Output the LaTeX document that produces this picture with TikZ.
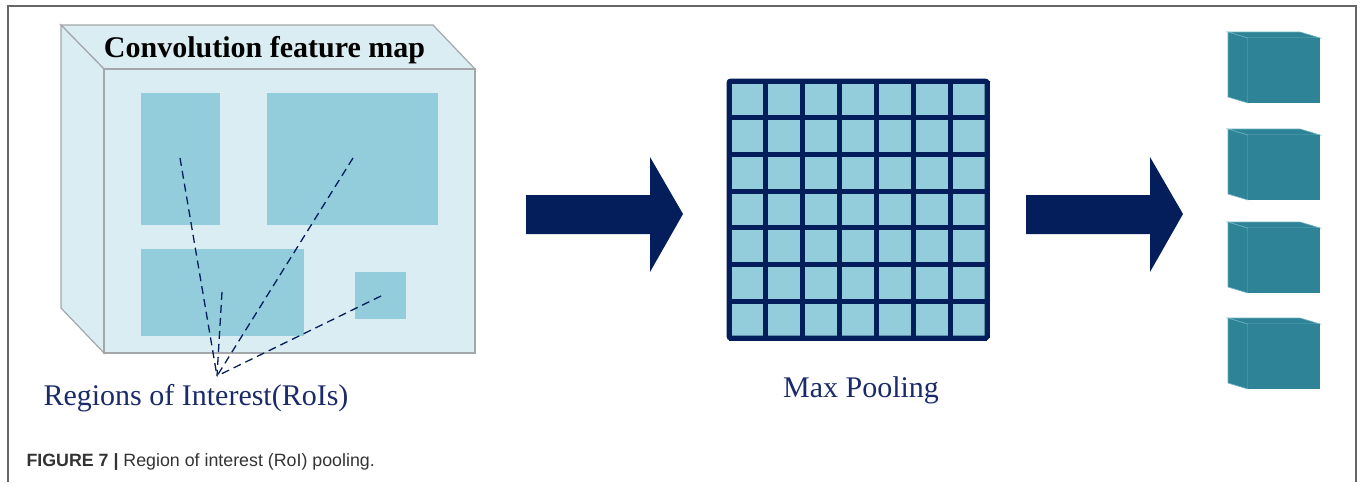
\documentclass[tikz,border=0pt]{standalone}
\usepackage{fontspec}
\setmainfont{Liberation Serif}
\newfontfamily\capfont{Liberation Sans}
\usepackage{tikz}

\definecolor{mapfill}{HTML}{DAEDF2}
\definecolor{mapedge}{HTML}{A3A7A9}
\definecolor{roifill}{HTML}{93CDDB}
\definecolor{navy}{HTML}{031E5B}
\definecolor{inktext}{HTML}{1B2A6B}
\definecolor{cubefill}{HTML}{2F8396}
\definecolor{cubeedge}{HTML}{6AAFC0}

\tikzset{
    roiline/.style={draw=navy, line width=1.3, dash pattern=on 8pt off 5pt},
    bigtext/.style={font=\fontsize{30}{34}\selectfont, anchor=base},
}

\begin{document}
\begin{tikzpicture}[x=1pt, y=-1pt]
    \useasboundingbox (0,0) rectangle (1360,482);
    % figure frame
    \draw[black!60, line width=1.5] (8,482) -- (8,6) -- (1356,6) -- (1356,482);

    % feature map block
    \filldraw[fill=mapfill, draw=mapedge, line width=1.2] (61,25) -- (433,25) -- (475,69) -- (104,69) -- cycle;
    \filldraw[fill=mapfill, draw=mapedge, line width=1.2] (61,25) -- (104,69) -- (104,353) -- (61,308) -- cycle;
    \filldraw[fill=mapfill, draw=mapedge, line width=1.2] (104,69) rectangle (475,353);
    \node[bigtext, font=\fontsize{30}{34}\selectfont\bfseries] (title) at (264.5,57) {Convolution feature map};

    % regions
    \foreach \xa/\ya/\xb/\yb in {141/93/220/225, 267/93/438/225, 141/249/304/336, 355/272/406/319} {
        \fill[roifill] (\xa,\ya) rectangle (\xb,\yb);
    }
    \coordinate (roi) at (217,376);
    \coordinate (pa) at (180,158);
    \coordinate (pb) at (353,158);
    \coordinate (pc) at (222,292);
    \coordinate (pd) at (381,296);
    \foreach \p in {pa, pb, pc, pd} {
        \draw[roiline] (\p) -- (roi);
    }
    \node[bigtext, text=inktext] (roilabel) at (196,405.5) {Regions of Interest(RoIs)};

    % arrows
    \foreach \ax in {526, 1026} {
        \fill[navy] (\ax,195) -- (\ax+124,195) -- (\ax+124,157) -- (\ax+157,214)
            -- (\ax+124,272) -- (\ax+124,234) -- (\ax,234) -- cycle;
    }

    % pooling grid
    \fill[roifill] (729,81) rectangle (987,338);
    \foreach \i in {0,...,7} {
        \draw[navy, line width=5] (729+\i*36.857,81) -- (729+\i*36.857,338);
        \draw[navy, line width=5] (729,81+\i*36.714) -- (987,81+\i*36.714);
    }
    \draw[navy, line width=5, rounded corners=2] (729,81) rectangle (987,338);
    \node[bigtext, text=inktext] (poollabel) at (861,397) {Max Pooling};

    % output cubes
    \foreach \t in {32, 129, 222, 318} {
        \filldraw[fill=cubefill, draw=cubeedge, line width=0.6] (1228,\t) -- (1248,\t+6) -- (1248,\t+71) -- (1228,\t+65) -- cycle;
        \filldraw[fill=cubefill, draw=cubeedge, line width=0.6] (1228,\t) -- (1300,\t) -- (1320,\t+6) -- (1248,\t+6) -- cycle;
        \fill[cubefill] (1248.4,\t+6.4) rectangle (1320,\t+71);
    }

    \node[anchor=base west, text=black!80, font=\capfont\fontsize{17.8}{20}\selectfont] (caption) at (23,466.5)
        {\textbf{FIGURE 7 |} Region of interest (RoI) pooling.};
\end{tikzpicture}
\end{document}
